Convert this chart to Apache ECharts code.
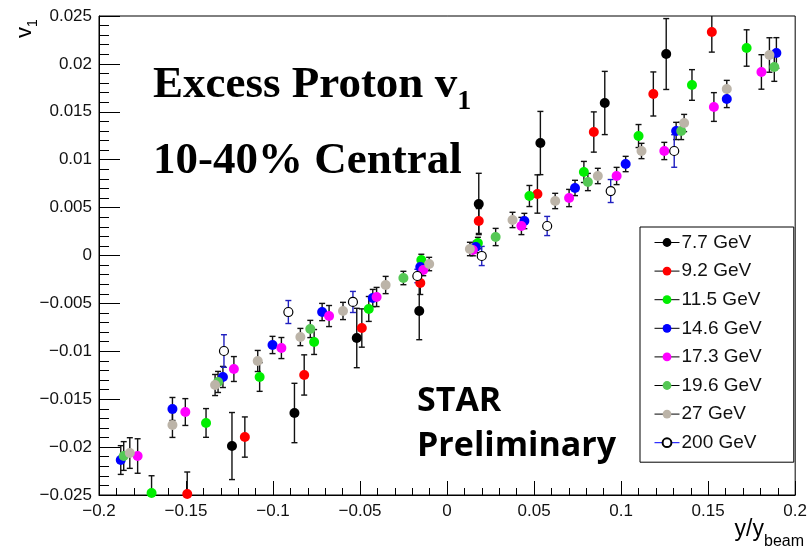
<!DOCTYPE html>
<html><head><meta charset="utf-8">
<script src="https://cdn.jsdelivr.net/npm/echarts@6/dist/echarts.min.js"></script>
<style>html,body{margin:0;padding:0;background:#fff}#c{width:810px;height:554px}</style>
</head><body><div id="c"></div>
<script>
// ---- data (y/y_beam, v1, stat. error) ----
const names = ['7.7 GeV','9.2 GeV','11.5 GeV','14.6 GeV','17.3 GeV','19.6 GeV','27 GeV','200 GeV'];
const x77 = [-0.1236,-0.0877,-0.0519,-0.0160,0.0182,0.0536,0.0906,0.1259];
const y77 = [-0.01989,-0.01644,-0.00861,-0.00579,0.00538,0.01174,0.01592,0.02103];
const e77 = [0.0035,0.0031,0.0031,0.0030,0.0032,0.0033,0.0033,0.0037];
const x92 = [-0.1493,-0.1162,-0.0821,-0.0490,-0.0154,0.0182,0.0519,0.0843,0.1185,0.1521];
const y92 = [-0.0249,-0.01895,-0.01247,-0.00757,-0.00287,0.00360,0.00642,0.01289,0.01686,0.02333];
const e92 = [0.0023,0.0021,0.0021,0.0020,0.0012,0.0013,0.0020,0.0021,0.0023,0.0021];
const x115 = [-0.1698,-0.1385,-0.1077,-0.0764,-0.0450,-0.0148,0.0177,0.0473,0.0786,0.1100,0.1407,0.1721];
const y115 = [-0.02479,-0.01748,-0.01268,-0.00903,-0.00558,-0.00047,0.00130,0.00621,0.00872,0.01247,0.01780,0.02166];
const e115 = [0.0018,0.0015,0.0015,0.0013,0.0013,0.0006,0.0006,0.0011,0.0011,0.0012,0.0016,0.0019];
const x146 = [-0.1875,-0.1578,-0.1288,-0.1003,-0.0718,-0.0427,-0.0154,0.0165,0.0444,0.0735,0.1026,0.1316,0.1607,0.1892];
const y146 = [-0.02135,-0.01602,-0.01268,-0.00934,-0.00590,-0.00444,-0.00120,0.00089,0.00360,0.00705,0.00955,0.01300,0.01634,0.02114];
const e146 = [0.0015,0.0012,0.0011,0.0009,0.0009,0.0009,0.0006,0.0006,0.0008,0.0008,0.0008,0.0009,0.0009,0.0016];
const x173 = [-0.1778,-0.1504,-0.1225,-0.0952,-0.0678,-0.0405,-0.0137,0.0148,0.0427,0.0701,0.0974,0.1248,0.1533,0.1806];
const y173 = [-0.02093,-0.01634,-0.01185,-0.00966,-0.00632,-0.00433,-0.00151,0.00057,0.00308,0.00600,0.00830,0.01091,0.01550,0.01916];
const e173 = [0.0018,0.0014,0.0013,0.0011,0.0011,0.0010,0.0006,0.0006,0.0009,0.0009,0.0009,0.0009,0.0015,0.0018];
const x196 = [-0.1858,-0.1316,-0.0786,-0.0251,0.0279,0.0809,0.1345,0.1880];
const y196 = [-0.02093,-0.01320,-0.00767,-0.00235,0.00193,0.00767,0.01300,0.01968];
const e196 = [0.0015,0.0011,0.0009,0.0007,0.0009,0.0009,0.0009,0.0015];
const x27 = [-0.1823,-0.1578,-0.1333,-0.1088,-0.0843,-0.0598,-0.0353,-0.0103,0.0131,0.0376,0.0621,0.0866,0.1117,0.1362,0.1607,0.1852];
const y27 = [-0.02062,-0.01769,-0.01352,-0.01101,-0.00851,-0.00579,-0.00308,-0.00089,0.00068,0.00371,0.00569,0.00830,0.01091,0.01383,0.01738,0.02093];
const e27 = [0.0016,0.0013,0.0011,0.0011,0.0009,0.0009,0.0009,0.0007,0.0007,0.0008,0.0008,0.0008,0.0008,0.0009,0.0009,0.0018];
const x200 = [-0.1282,-0.0912,-0.0541,-0.0171,0.0199,0.0575,0.0940,0.1305];
const y200 = [-0.00997,-0.00590,-0.00485,-0.00214,-0.00005,0.00308,0.00673,0.01091];
const e200 = [0.0017,0.0012,0.0011,0.0007,0.0010,0.0010,0.0012,0.0017];
const xTicks = [-0.2,-0.15,-0.1,-0.05,0,0.05,0.1,0.15,0.2];
const yTicks = [-0.025,-0.02,-0.015,-0.01,-0.005,0,0.005,0.01,0.015,0.02,0.025];

const sets = [
  {x:x77,y:y77,e:e77,color:'#000000',bar:'#111111'},
  {x:x92,y:y92,e:e92,color:'#ff0000',bar:'#111111'},
  {x:x115,y:y115,e:e115,color:'#00ee00',bar:'#111111'},
  {x:x146,y:y146,e:e146,color:'#0000ff',bar:'#111111'},
  {x:x173,y:y173,e:e173,color:'#ff00ff',bar:'#111111'},
  {x:x196,y:y196,e:e196,color:'#55c855',bar:'#111111'},
  {x:x27,y:y27,e:e27,color:'#bcb4a8',bar:'#111111'},
  {x:x200,y:y200,e:e200,color:'#ffffff',bar:'#2020c0',open:true}
];
const YMIN = yTicks[0], YMAX = yTicks[yTicks.length-1];

function fmt(v){
  const s = String(parseFloat(v.toFixed(4)));
  return s.replace('-', '\u2212');
}

const series = [];
sets.forEach((s, i) => {
  const pts = s.x.map((xv, k) => [xv, s.y[k], s.e[k]]);
  series.push({
    type: 'custom', name: 'err' + i, data: pts, z: 2, silent: true,
    renderItem: function(params, api){
      const xv = api.value(0), yv = api.value(1), ev = api.value(2);
      const hi = Math.min(yv + ev, YMAX), lo = Math.max(yv - ev, YMIN);
      const pT = api.coord([xv, hi]), pB = api.coord([xv, lo]);
      const st = {stroke: s.bar, lineWidth: 1.4};
      const ch = [{type:'line', shape:{x1:pT[0],y1:pT[1],x2:pB[0],y2:pB[1]}, style:st}];
      if (yv + ev < YMAX) ch.push({type:'line', shape:{x1:pT[0]-3,y1:pT[1],x2:pT[0]+3,y2:pT[1]}, style:st});
      if (yv - ev > YMIN) ch.push({type:'line', shape:{x1:pB[0]-3,y1:pB[1],x2:pB[0]+3,y2:pB[1]}, style:st});
      return {type:'group', children: ch};
    }
  });
});
sets.forEach((s, i) => {
  series.push({
    type: 'line', name: names[i], z: 3,
    data: s.x.map((xv, k) => [xv, s.y[k]]),
    symbol: 'circle', symbolSize: s.open ? 9 : 10, showSymbol: true,
    lineStyle: {width: 0, opacity: 0, color: s.open ? '#0000ff' : '#000'},
    itemStyle: s.open ? {color: '#ffffff', borderColor: '#000', borderWidth: 1.2} : {color: s.color, borderWidth: 0},
    emphasis: {disabled: true},
    animation: false
  });
});

const chart = echarts.init(document.getElementById('c'), null, {renderer: 'canvas'});
chart.setOption({
  animation: false,
  backgroundColor: '#ffffff',
  grid: {left: 99, right: 9, top: 16, bottom: 59, show: true, borderColor: '#000', borderWidth: 1},
  xAxis: {
    type: 'value', min: xTicks[0], max: xTicks[xTicks.length-1], interval: 0.05,
    axisLine: {onZero: false, lineStyle: {color: '#000', width: 1}},
    axisTick: {inside: true, length: 14, lineStyle: {color: '#000'}},
    minorTick: {show: true, splitNumber: 5, length: 7, lineStyle: {color: '#000'}},
    splitLine: {show: false},
    axisLabel: {formatter: fmt, color: '#111', fontFamily: 'Liberation Sans', fontSize: 17, margin: 8}
  },
  yAxis: {
    type: 'value', min: YMIN, max: YMAX, interval: 0.005,
    axisLine: {onZero: false, lineStyle: {color: '#000', width: 1}},
    axisTick: {inside: true, length: 21, lineStyle: {color: '#000'}},
    minorTick: {show: true, splitNumber: 5, length: 10, lineStyle: {color: '#000'}},
    splitLine: {show: false},
    axisLabel: {formatter: fmt, color: '#111', fontFamily: 'Liberation Sans', fontSize: 17, margin: 7}
  },
  legend: {
    data: names.map((n, i) => i === 7 ? {name: n, lineStyle: {color: '#0000ff', width: 1, opacity: 1}} : {name: n, lineStyle: {color: '#000', width: 1, opacity: 1}}),
    orient: 'vertical', left: 640, top: 227,
    itemWidth: 25, itemHeight: 11, itemGap: 9.6,
    padding: [6, 32, 10, 14],
    borderColor: '#000', borderWidth: 1, backgroundColor: '#fff',
    textStyle: {fontFamily: 'Liberation Sans', fontSize: 19, color: '#111', padding: [0,0,0,-3]},
    selectedMode: false
  },
  graphic: [
    {type: 'text', left: 153, top: 63, z: 10, style: {
      text: '{m|Excess Proton v}{s|1}', rich: {
        m: {fontFamily: 'Liberation Serif', fontWeight: 'bold', fontSize: 45, fill: '#000', verticalAlign: 'bottom'},
        s: {fontFamily: 'Liberation Serif', fontWeight: 'bold', fontSize: 28, fill: '#000', verticalAlign: 'bottom', padding: [0,0,-8,0]}
      }}},
    {type: 'text', left: 153, top: 139, z: 10, style: {
      text: '10-40% Central', fontFamily: 'Liberation Serif', fontWeight: 'bold', fontSize: 45, fill: '#000'}},
    {type: 'text', left: 417, top: 379, z: 10, style: {
      text: 'STAR\nPreliminary', fontFamily: 'Open Sans', fontWeight: 'bold', fontSize: 34, lineHeight: 45, fill: '#000'}},
    {type: 'text', x: 14, y: 38, rotation: Math.PI/2, z: 10, style: {
      text: '{m|v}{s|1}', rich: {
        m: {fontFamily: 'Liberation Sans', fontSize: 22, fill: '#000', verticalAlign: 'bottom'},
        s: {fontFamily: 'Liberation Sans', fontSize: 14, fill: '#000', verticalAlign: 'bottom', padding: [0,0,-4,0]}
      }}},
    {type: 'text', right: 6, top: 518, z: 10, style: {
      text: '{m|y/y}{s|beam}', rich: {
        m: {fontFamily: 'Liberation Sans', fontSize: 23, fill: '#000', verticalAlign: 'bottom'},
        s: {fontFamily: 'Liberation Sans', fontSize: 16, fill: '#000', verticalAlign: 'bottom', padding: [0,0,-9,0]}
      }}}
  ],
  series: series
});
</script></body></html>
